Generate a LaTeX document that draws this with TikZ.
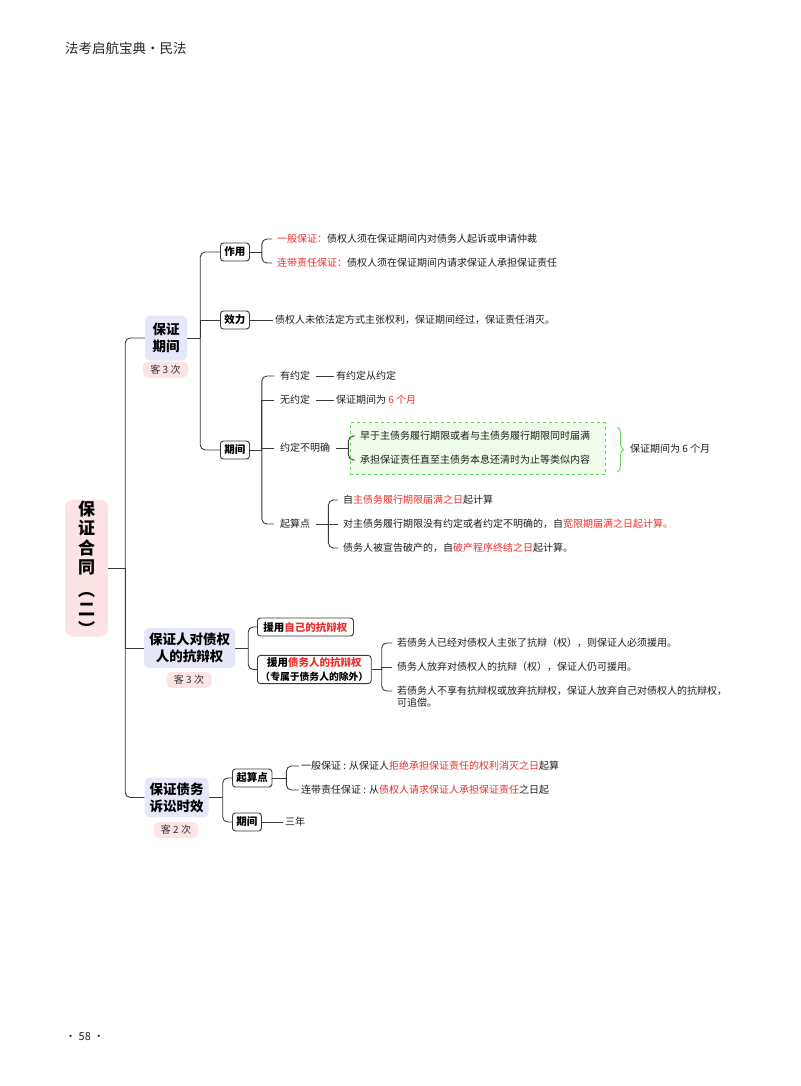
\documentclass[tikz,border=0pt]{standalone}
\usepackage{fontspec}
\setmainfont{Noto Sans CJK SC}
\usetikzlibrary{calc,decorations.pathreplacing}
\definecolor{lineC}{HTML}{3A3A3A}
\definecolor{redC}{HTML}{EE2F2C}
\definecolor{lav}{HTML}{E7E7FA}
\definecolor{pinkC}{HTML}{FCE3E6}
\definecolor{greenC}{HTML}{5CD957}
\definecolor{greenF}{HTML}{EEFCE9}
\begin{document}
\begin{tikzpicture}[x=1pt,y=-1pt,
  conn/.style={draw=lineC, line width=0.9pt, rounded corners=5pt},
  straight/.style={draw=lineC, line width=0.9pt, sharp corners},
  rootbox/.style={fill=pinkC, rounded corners=8pt, minimum width=43pt, minimum height=137pt, align=center, font=\fontsize{17}{19.5}\selectfont\bfseries, inner sep=0pt},
  cat/.style={fill=lav, rounded corners=5pt, font=\fontsize{13.5}{17}\selectfont\bfseries, align=center, inner xsep=5pt, inner ysep=5pt},
  pill/.style={fill=pinkC, rounded corners=5pt, font=\fontsize{10}{12}\selectfont, minimum height=16pt, minimum width=45pt, inner sep=0pt, text=black!80},
  sub/.style={draw=lineC, line width=0.9pt, rounded corners=3pt, fill=white, font=\fontsize{10.5}{14}\selectfont\bfseries, inner xsep=4pt, inner ysep=2pt, minimum height=18pt, anchor=west, align=center},
  leaf/.style={font=\fontsize{10}{12}\selectfont, inner xsep=2pt, inner ysep=1pt, anchor=west, text=black!88},
  leafg/.style={leaf, inner xsep=5pt},
  leafw/.style={leaf, inner xsep=6pt},
  gbox/.style={draw=greenC, dashed, line width=0.9pt, fill=greenF, minimum width=255pt, minimum height=52pt, inner sep=0pt}
]
\useasboundingbox (0,0) rectangle (800,1086);
\fill[white] (0,0) rectangle (800,1086);

% header and footer
\node[anchor=west, font=\fontsize{13.5}{16}\selectfont, text=black!85, inner sep=0pt] (hdr) at (65,48) {法考启航宝典·民法};
\node[anchor=west, font=\fontsize{11}{13}\selectfont, text=black!85, inner sep=0pt] (ftr) at (65,1037) {· 58 ·};

% root
\node[rootbox] (root) at (86.5,568) {保\\证\\合\\同\\[3pt]︵\\二\\︶};

% level 1
\node[cat, minimum width=42pt, minimum height=45pt] (b1) at (166,338) {保证\\期间};
\node[pill] (p1) at (165.5,369.5) {客 3 次};
\node[cat] (b2) at (189.5,648) {保证人对债权\\人的抗辩权};
\node[pill] (p2) at (189,680) {客 3 次};
\node[cat] (b3) at (176.5,797.5) {保证债务\\诉讼时效};
\node[pill, minimum width=44pt] (p3) at (176,830) {客 2 次};

\draw[straight] (root.east) -- ++(17,0) coordinate (j0);
\draw[conn] (j0) |- (b1.west);
\draw[straight] (j0) |- (b2.west);
\draw[conn] (j0) |- (b3.west);

% ---------- branch 1 ----------
\node[sub] (s11) at (220,252) {作用};
\node[sub] (s12) at (220,320) {效力};
\node[sub] (s13) at (220,450) {期间};
\draw[straight] (b1.east) -- ++(13,0) coordinate (j1);
\draw[conn] (j1) |- (s11.west);
\draw[straight] (j1) |- (s12.west);
\draw[conn] (j1) |- (s13.west);

\node[leafg] (a1) at (272,239) {\textcolor{redC}{一般保证：}债权人须在保证期间内对债务人起诉或申请仲裁};
\node[leafg] (a2) at (272,263) {\textcolor{redC}{连带责任保证：}债权人须在保证期间内请求保证人承担保证责任};
\draw[straight] (s11.east) -- ++(12,0) coordinate (j11);
\draw[conn] (j11) |- (a1.west);
\draw[conn] (j11) |- (a2.west);

\node[leaf] (e1) at (273,320) {债权人未依法定方式主张权利，保证期间经过，保证责任消灭。};
\draw[straight] (s12.east) -- (e1.west);

% 期间 children
\node[leafw] (q1) at (274,376) {有约定};
\node[leaf] (q1b) at (334,376) {有约定从约定};
\node[leafw] (q2) at (274,400) {无约定};
\node[leaf] (q2b) at (334,400) {保证期间为 \textcolor{redC}{6 个月}};
\node[leafw] (q3) at (274,448) {约定不明确};
\node[leafw] (q4) at (274,524) {起算点};
\draw[straight] (s13.east) -- ++(12,0) coordinate (j13);
\draw[conn] (j13) |- (q1.west);
\draw[straight] (j13) |- (q2.west);
\draw[straight] (j13) |- (q3.west);
\draw[conn] (j13) |- (q4.west);
\draw[straight] (q1.east) -- (q1b.west);
\draw[straight] (q2.east) -- (q2b.west);

% green dashed group
\node[gbox] (gb) at (477.5,448.5) {};
\node[leafg] (m1) at (355,436) {早于主债务履行期限或者与主债务履行期限同时届满};
\node[leafg] (m2) at (355,460) {承担保证责任直至主债务本息还清时为止等类似内容};
\draw[straight] (q3.east) -- ++(12,0) coordinate (j3);
\draw[conn] (j3) |- (m1.west);
\draw[conn] (j3) |- (m2.west);
\draw[draw=greenC, line width=0.9pt, decorate, decoration={brace, amplitude=6pt}]
  ($(gb.north east)+(12,5)$) -- ($(gb.south east)+(12,-3)$);
\node[leaf] (gt) at (628,449) {保证期间为 6 个月};

% 起算点 children
\node[leafg] (r1) at (338,500) {自\textcolor{redC}{主债务履行期限届满之日}起计算};
\node[leafg] (r2) at (338,524) {对主债务履行期限没有约定或者约定不明确的，自\textcolor{redC}{宽限期届满之日起计算。}};
\node[leafg] (r3) at (338,548) {债务人被宣告破产的，自\textcolor{redC}{破产程序终结之日}起计算。};
\draw[straight] (q4.east) -- ++(12,0) coordinate (j4);
\draw[conn] (j4) |- (r1.west);
\draw[straight] (j4) |- (r2.west);
\draw[conn] (j4) |- (r3.west);

% ---------- branch 2 ----------
\node[sub, inner xsep=6pt] (s21) at (257,627) {援用\textcolor{redC}{自己的抗辩权}};
\node[sub, inner xsep=3pt] (s22) at (257,669.5) {援用\textcolor{redC}{债务人的抗辩权}\\{\fontsize{9.8}{12}\selectfont（专属于债务人的除外）}};
\draw[straight] (b2.east) -- ++(13,0) coordinate (j2);
\draw[conn] (j2) |- (s21.west);
\draw[conn] (j2) |- (s22.west);

\node[leafg] (t1) at (392,643) {若债务人已经对债权人主张了抗辩（权），则保证人必须援用。};
\node[leafg] (t2) at (392,667) {债务人放弃对债权人的抗辩（权），保证人仍可援用。};
\node[leafg] (t3) at (392,691) {若债务人不享有抗辩权或放弃抗辩权，保证人放弃自己对债权人的抗辩权，};
\node[leaf, anchor=north west] (t3b) at ($(t3.south west)+(3,0)$) {可追偿。};
\draw[straight] (s22.east) -- ++(10,0) coordinate (j22);
\draw[conn] (j22) |- (t1.west);
\draw[straight] (j22) |- (t2.west);
\draw[conn] (j22) |- (t3.west);

% ---------- branch 3 ----------
\node[sub] (s31) at (232,778) {起算点};
\node[sub] (s32) at (232,822) {期间};
\draw[straight] (b3.east) -- ++(14,0) coordinate (j3b);
\draw[conn] (j3b) |- (s31.west);
\draw[conn] (j3b) |- (s32.west);

\node[leaf] (u1) at (299,766) {一般保证 : 从保证人\textcolor{redC}{拒绝承担保证责任的权利消灭之日}起算};
\node[leaf] (u2) at (299,790) {连带责任保证 : 从\textcolor{redC}{债权人请求保证人承担保证责任}之日起};
\draw[straight] (s31.east) -- ++(14,0) coordinate (j31);
\draw[conn] (j31) |- (u1.west);
\draw[conn] (j31) |- (u2.west);

\node[leaf] (u3) at (283,822) {三年};
\draw[straight] (s32.east) -- (u3.west);
\end{tikzpicture}
\end{document}
